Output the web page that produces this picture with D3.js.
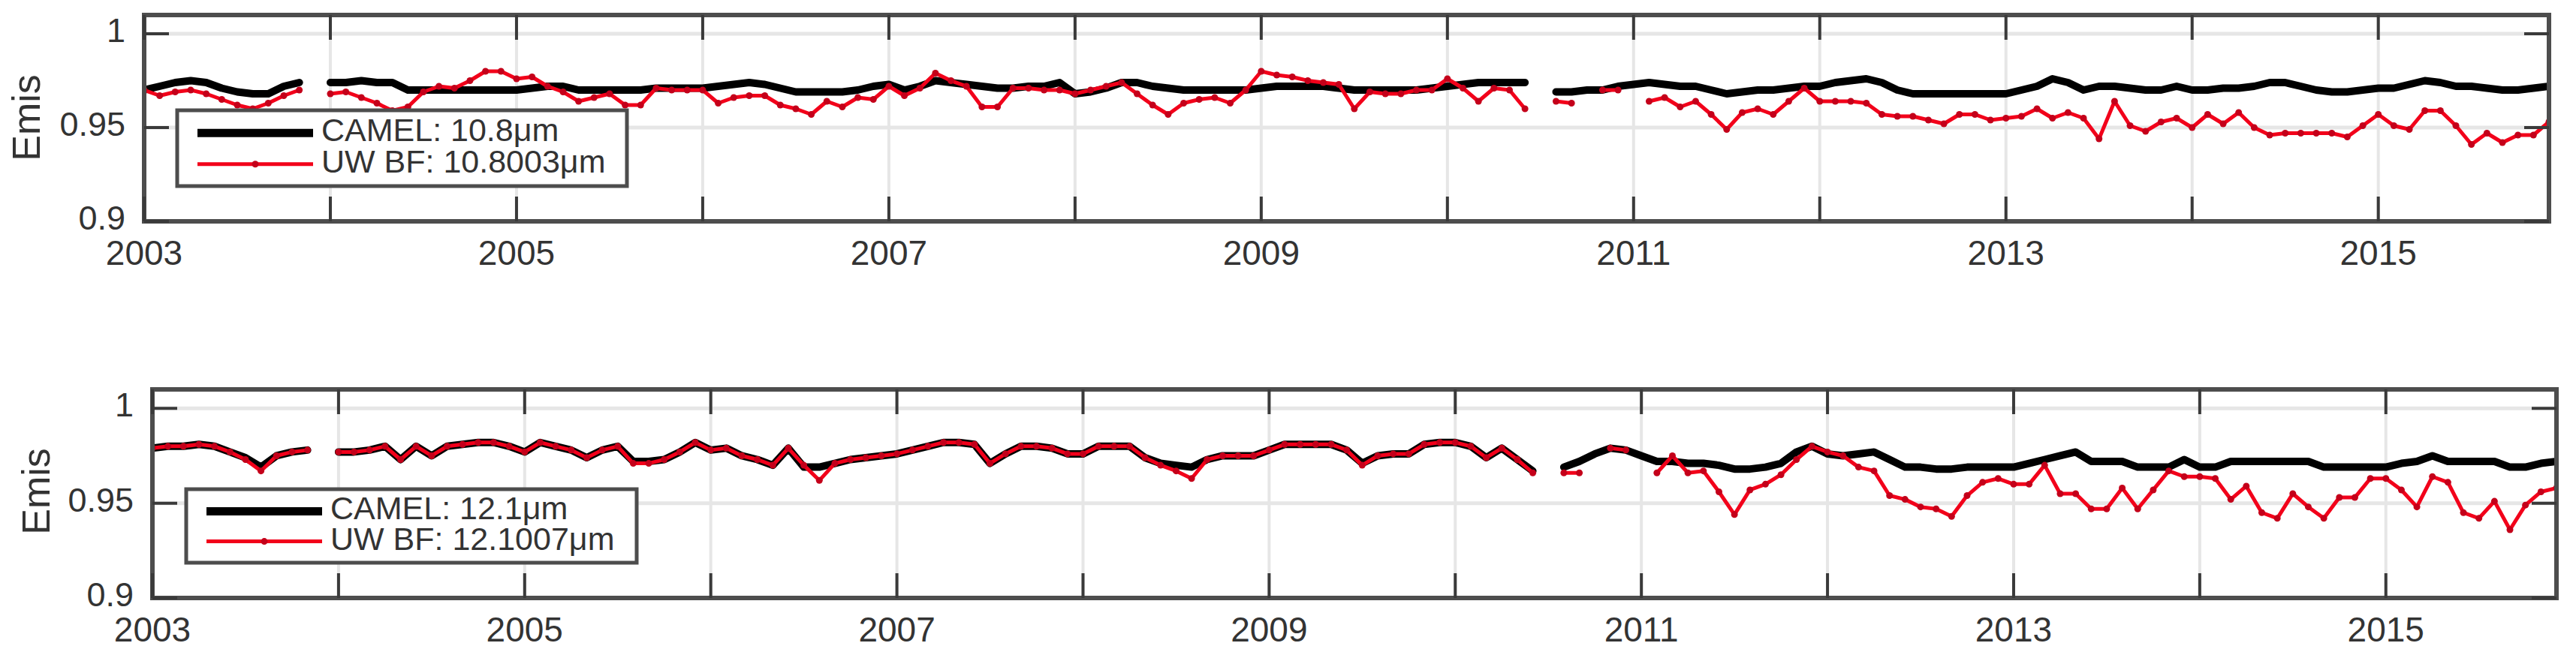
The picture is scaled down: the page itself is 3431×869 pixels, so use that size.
<!DOCTYPE html>
<html>
<head>
<meta charset="utf-8">
<script src="https://cdn.jsdelivr.net/npm/d3@7"></script>
<style>
body { margin: 0; background: #fff; }
text { font-family: "Liberation Sans", Arial, Helvetica, sans-serif; fill: #333; }
</style>
</head>
<body>
<svg width="3431" height="869"></svg>
<script>

// DATA  (monthly, Jan 2003 .. Dec 2015, null = no data)

var startYear = 2003;
var months = d3.range(156).map(function (i) { return startYear + i / 12; });

var camel108 = [
    0.970, 0.972, 0.974, 0.975, 0.974, 0.971, 0.969, 0.968, 0.968, 0.972, 0.974, null,   // 2003
    0.974, 0.974, 0.975, 0.974, 0.974, 0.970, 0.970, 0.970, 0.970, 0.970, 0.970, 0.970,  // 2004
    0.970, 0.971, 0.972, 0.972, 0.970, 0.970, 0.970, 0.970, 0.970, 0.971, 0.971, 0.971,  // 2005
    0.971, 0.972, 0.973, 0.974, 0.973, 0.971, 0.969, 0.969, 0.969, 0.969, 0.970, 0.972,  // 2006
    0.973, 0.970, 0.972, 0.975, 0.974, 0.973, 0.972, 0.971, 0.971, 0.972, 0.972, 0.974,  // 2007
    0.968, 0.969, 0.971, 0.974, 0.974, 0.972, 0.971, 0.970, 0.970, 0.970, 0.970, 0.970,  // 2008
    0.971, 0.972, 0.972, 0.972, 0.972, 0.971, 0.970, 0.970, 0.970, 0.970, 0.970, 0.971,  // 2009
    0.972, 0.973, 0.974, 0.974, 0.974, 0.974, null,  0.969, 0.969, 0.970, 0.970, 0.972,  // 2010
    0.973, 0.974, 0.973, 0.972, 0.972, 0.970, 0.968, 0.969, 0.970, 0.970, 0.971, 0.972,  // 2011
    0.972, 0.974, 0.975, 0.976, 0.974, 0.970, 0.968, 0.968, 0.968, 0.968, 0.968, 0.968,  // 2012
    0.968, 0.970, 0.972, 0.976, 0.974, 0.970, 0.972, 0.972, 0.971, 0.970, 0.970, 0.972,  // 2013
    0.970, 0.970, 0.971, 0.971, 0.972, 0.974, 0.974, 0.972, 0.970, 0.969, 0.969, 0.970,  // 2014
    0.971, 0.971, 0.973, 0.975, 0.974, 0.972, 0.972, 0.971, 0.970, 0.970, 0.971, 0.972   // 2015
];

var uwbf108 = [
    0.970, 0.967, 0.969, 0.970, 0.968, 0.965, 0.962, 0.960, 0.963, 0.967, 0.970, null,   // 2003
    0.968, 0.969, 0.966, 0.963, 0.959, 0.961, 0.969, 0.972, 0.971, 0.975, 0.980, 0.980,  // 2004
    0.976, 0.977, 0.972, 0.969, 0.964, 0.966, 0.968, 0.962, 0.962, 0.971, 0.970, 0.970,  // 2005
    0.970, 0.963, 0.966, 0.967, 0.967, 0.962, 0.960, 0.957, 0.964, 0.961, 0.966, 0.965,  // 2006
    0.972, 0.967, 0.971, 0.979, 0.975, 0.972, 0.961, 0.961, 0.971, 0.971, 0.970, 0.970,  // 2007
    0.968, 0.970, 0.972, 0.974, 0.968, 0.962, 0.957, 0.963, 0.965, 0.966, 0.963, 0.970,  // 2008
    0.980, 0.978, 0.977, 0.975, 0.974, 0.973, 0.960, 0.969, 0.968, 0.968, 0.970, 0.970,  // 2009
    0.976, 0.971, 0.964, 0.971, 0.970, 0.960, null,  0.964, 0.963, null,  0.970, 0.970,  // 2010
    null,  0.964, 0.966, 0.961, 0.964, 0.957, 0.949, 0.958, 0.960, 0.957, 0.964, 0.971,  // 2011
    0.964, 0.964, 0.964, 0.963, 0.957, 0.956, 0.956, 0.954, 0.952, 0.957, 0.957, 0.954,  // 2012
    0.955, 0.956, 0.960, 0.955, 0.958, 0.955, 0.944, 0.964, 0.951, 0.948, 0.953, 0.955,  // 2013
    0.950, 0.957, 0.952, 0.958, 0.950, 0.946, 0.947, 0.947, 0.947, 0.947, 0.945, 0.951,  // 2014
    0.957, 0.951, 0.949, 0.959, 0.959, 0.951, 0.941, 0.947, 0.942, 0.946, 0.946, 0.953   // 2015
];

var camel121 = [
    0.979, 0.980, 0.980, 0.981, 0.980, 0.977, 0.974, 0.969, 0.975, 0.977, 0.978, null,   // 2003
    0.977, 0.977, 0.978, 0.980, 0.973, 0.980, 0.975, 0.980, 0.981, 0.982, 0.982, 0.980,  // 2004
    0.977, 0.982, 0.980, 0.978, 0.974, 0.978, 0.980, 0.972, 0.972, 0.973, 0.977, 0.982,  // 2005
    0.978, 0.979, 0.975, 0.973, 0.970, 0.979, 0.969, 0.969, 0.971, 0.973, 0.974, 0.975,  // 2006
    0.976, 0.978, 0.980, 0.982, 0.982, 0.981, 0.971, 0.976, 0.980, 0.980, 0.979, 0.976,  // 2007
    0.976, 0.980, 0.980, 0.980, 0.974, 0.971, 0.970, 0.969, 0.973, 0.975, 0.975, 0.975,  // 2008
    0.978, 0.981, 0.981, 0.981, 0.981, 0.978, 0.971, 0.975, 0.976, 0.976, 0.981, 0.982,  // 2009
    0.982, 0.980, 0.974, 0.979, 0.973, 0.967, null,  0.969, 0.972, 0.976, 0.979, 0.978,  // 2010
    0.975, 0.972, 0.972, 0.971, 0.971, 0.970, 0.968, 0.968, 0.969, 0.971, 0.977, 0.980,  // 2011
    0.976, 0.975, 0.976, 0.977, 0.973, 0.969, 0.969, 0.968, 0.968, 0.969, 0.969, 0.969,  // 2012
    0.969, 0.971, 0.973, 0.975, 0.977, 0.972, 0.972, 0.972, 0.969, 0.969, 0.969, 0.973,  // 2013
    0.969, 0.969, 0.972, 0.972, 0.972, 0.972, 0.972, 0.972, 0.969, 0.969, 0.969, 0.969,  // 2014
    0.969, 0.971, 0.972, 0.975, 0.972, 0.972, 0.972, 0.972, 0.969, 0.969, 0.971, 0.972   // 2015
];

var uwbf121 = [
    0.979, 0.980, 0.980, 0.981, 0.980, 0.977, 0.973, 0.967, 0.975, 0.977, 0.978, null,   // 2003
    0.977, 0.977, 0.978, 0.980, 0.973, 0.980, 0.975, 0.980, 0.981, 0.982, 0.982, 0.980,  // 2004
    0.977, 0.982, 0.980, 0.978, 0.974, 0.978, 0.980, 0.971, 0.971, 0.973, 0.977, 0.982,  // 2005
    0.978, 0.979, 0.975, 0.973, 0.970, 0.979, 0.970, 0.962, 0.971, 0.973, 0.974, 0.975,  // 2006
    0.976, 0.978, 0.980, 0.982, 0.982, 0.981, 0.971, 0.976, 0.980, 0.980, 0.979, 0.976,  // 2007
    0.976, 0.980, 0.980, 0.980, 0.974, 0.970, 0.967, 0.963, 0.973, 0.975, 0.975, 0.975,  // 2008
    0.978, 0.981, 0.981, 0.981, 0.981, 0.978, 0.970, 0.975, 0.976, 0.976, 0.981, 0.982,  // 2009
    0.982, 0.980, 0.974, 0.979, 0.973, 0.966, null,  0.966, 0.966, null,  0.979, 0.978,  // 2010
    null,  0.966, 0.975, 0.966, 0.967, 0.956, 0.944, 0.957, 0.960, 0.965, 0.973, 0.980,  // 2011
    0.977, 0.975, 0.969, 0.967, 0.954, 0.952, 0.948, 0.947, 0.943, 0.954, 0.961, 0.963,  // 2012
    0.960, 0.960, 0.970, 0.955, 0.955, 0.947, 0.947, 0.958, 0.947, 0.957, 0.967, 0.964,  // 2013
    0.964, 0.963, 0.952, 0.959, 0.945, 0.942, 0.955, 0.948, 0.942, 0.953, 0.953, 0.963,  // 2014
    0.963, 0.957, 0.948, 0.964, 0.961, 0.945, 0.942, 0.951, 0.936, 0.949, 0.956, 0.958   // 2015
];

var xTickYears = [2003, 2004, 2005, 2006, 2007, 2008, 2009, 2010, 2011, 2012, 2013, 2014, 2015];
var xLabelYears = [2003, 2005, 2007, 2009, 2011, 2013, 2015];
var yTickVals = [0.9, 0.95, 1];
var yTickLabels = ["0.9", "0.95", "1"];
var yDomain = [0.9, 1.01];
var xDomain = [2003, 2015 + 11 / 12];
var yLabel = "Emis";
var legend108 = ["CAMEL: 10.8\u03bcm", "UW BF: 10.8003\u03bcm"];
var legend121 = ["CAMEL: 12.1\u03bcm", "UW BF: 12.1007\u03bcm"];


// LAYOUT

var svg = d3.select("svg");

var panels = [
    { camel: camel108, uw: uwbf108, names: legend108,
      left: 192, right: 3395, top: 20, bottom: 295,
      legend: { x: 236, y: 147, w: 599, h: 101 }, ylab: [53, 157] },
    { camel: camel121, uw: uwbf121, names: legend121,
      left: 203, right: 3405, top: 519, bottom: 797,
      legend: { x: 248, y: 652, w: 600, h: 98 }, ylab: [66, 655] }
];

const tickLen = 33;
const red = "#f2001a";

panels.forEach(drawPanel);

function drawPanel(p, idx) {
    var x = d3.scaleLinear().domain(xDomain).range([p.left, p.right]);
    var y = d3.scaleLinear().domain(yDomain).range([p.bottom, p.top]);

    var g = svg.append("g");

    // grid
    g.selectAll(".vgrid").data(xTickYears).enter().append("line")
        .attr("x1", function (d) { return x(d); })
        .attr("x2", function (d) { return x(d); })
        .attr("y1", p.top).attr("y2", p.bottom)
        .attr("stroke", "#e6e6e6").attr("stroke-width", 4);
    g.selectAll(".hgrid").data(yTickVals).enter().append("line")
        .attr("x1", p.left).attr("x2", p.right)
        .attr("y1", function (d) { return y(d); })
        .attr("y2", function (d) { return y(d); })
        .attr("stroke", "#e6e6e6").attr("stroke-width", 5);

    // series
    svg.append("clipPath").attr("id", "clip" + idx)
        .append("rect")
        .attr("x", p.left).attr("y", p.top)
        .attr("width", p.right - p.left).attr("height", p.bottom - p.top);

    var line = d3.line()
        .defined(function (d) { return d[1] != null; })
        .x(function (d) { return x(d[0]); })
        .y(function (d) { return y(d[1]); });

    var camelPts = months.map(function (m, i) { return [m, p.camel[i]]; });
    var uwPts = months.map(function (m, i) { return [m, p.uw[i]]; });

    var plot = g.append("g").attr("clip-path", "url(#clip" + idx + ")");

    plot.append("path")
        .datum(camelPts)
        .attr("d", line)
        .attr("fill", "none")
        .attr("stroke", "#000")
        .attr("stroke-width", 10)
        .attr("stroke-linejoin", "round")
        .attr("stroke-linecap", "round");

    plot.append("path")
        .datum(uwPts)
        .attr("d", line)
        .attr("fill", "none")
        .attr("stroke", red)
        .attr("stroke-width", 5)
        .attr("stroke-linejoin", "round");

    plot.selectAll(".dot")
        .data(uwPts.filter(function (d) { return d[1] != null; }))
        .enter().append("circle")
        .attr("cx", function (d) { return x(d[0]); })
        .attr("cy", function (d) { return y(d[1]); })
        .attr("r", 4.5)
        .attr("fill", "#c4001a");

    // box
    g.append("rect")
        .attr("x", p.left).attr("y", p.top)
        .attr("width", p.right - p.left).attr("height", p.bottom - p.top)
        .attr("fill", "none")
        .attr("stroke", "#4d4d4d")
        .attr("stroke-width", 6);

    // ticks
    var tk = g.append("g").attr("stroke", "#3a3a3a").attr("stroke-width", 4);
    xTickYears.forEach(function (d) {
        tk.append("line").attr("x1", x(d)).attr("x2", x(d)).attr("y1", p.bottom).attr("y2", p.bottom - tickLen);
        tk.append("line").attr("x1", x(d)).attr("x2", x(d)).attr("y1", p.top).attr("y2", p.top + tickLen);
    });
    yTickVals.forEach(function (d) {
        tk.append("line").attr("x1", p.left).attr("x2", p.left + tickLen).attr("y1", y(d)).attr("y2", y(d));
        tk.append("line").attr("x1", p.right).attr("x2", p.right - tickLen).attr("y1", y(d)).attr("y2", y(d));
    });

    // tick labels
    g.selectAll(".xl").data(xLabelYears).enter().append("text")
        .attr("x", function (d) { return x(d); })
        .attr("y", p.bottom + 58)
        .attr("text-anchor", "middle")
        .attr("font-size", 46)
        .text(function (d) { return d; });

    g.selectAll(".yl").data(yTickVals).enter().append("text")
        .attr("x", p.left - 25)
        .attr("y", function (d) { return y(d) + 11; })
        .attr("text-anchor", "end")
        .attr("font-size", 45)
        .text(function (d, i) { return yTickLabels[i]; });

    g.append("text")
        .attr("transform", "translate(" + p.ylab[0] + "," + p.ylab[1] + ") rotate(-90)")
        .attr("text-anchor", "middle")
        .attr("font-size", 52)
        .text(yLabel);

    // legend
    var L = p.legend;
    var lg = g.append("g");
    lg.append("rect")
        .attr("x", L.x).attr("y", L.y).attr("width", L.w).attr("height", L.h)
        .attr("fill", "#fff")
        .attr("stroke", "#4d4d4d")
        .attr("stroke-width", 5);

    var rows = [L.y + L.h * 0.3, L.y + L.h * 0.71];
    lg.append("line")
        .attr("x1", L.x + 27).attr("x2", L.x + 181)
        .attr("y1", rows[0]).attr("y2", rows[0])
        .attr("stroke", "#000").attr("stroke-width", 11);
    lg.append("line")
        .attr("x1", L.x + 27).attr("x2", L.x + 181)
        .attr("y1", rows[1]).attr("y2", rows[1])
        .attr("stroke", red).attr("stroke-width", 5);
    lg.append("circle")
        .attr("cx", L.x + 104).attr("cy", rows[1]).attr("r", 4.5)
        .attr("fill", "#c4001a");

    lg.selectAll(".lt").data(p.names).enter().append("text")
        .attr("x", L.x + 192)
        .attr("y", function (d, i) { return rows[i] + 11; })
        .attr("font-size", 43)
        .text(function (d) { return d; });
}

</script>
</body>
</html>
